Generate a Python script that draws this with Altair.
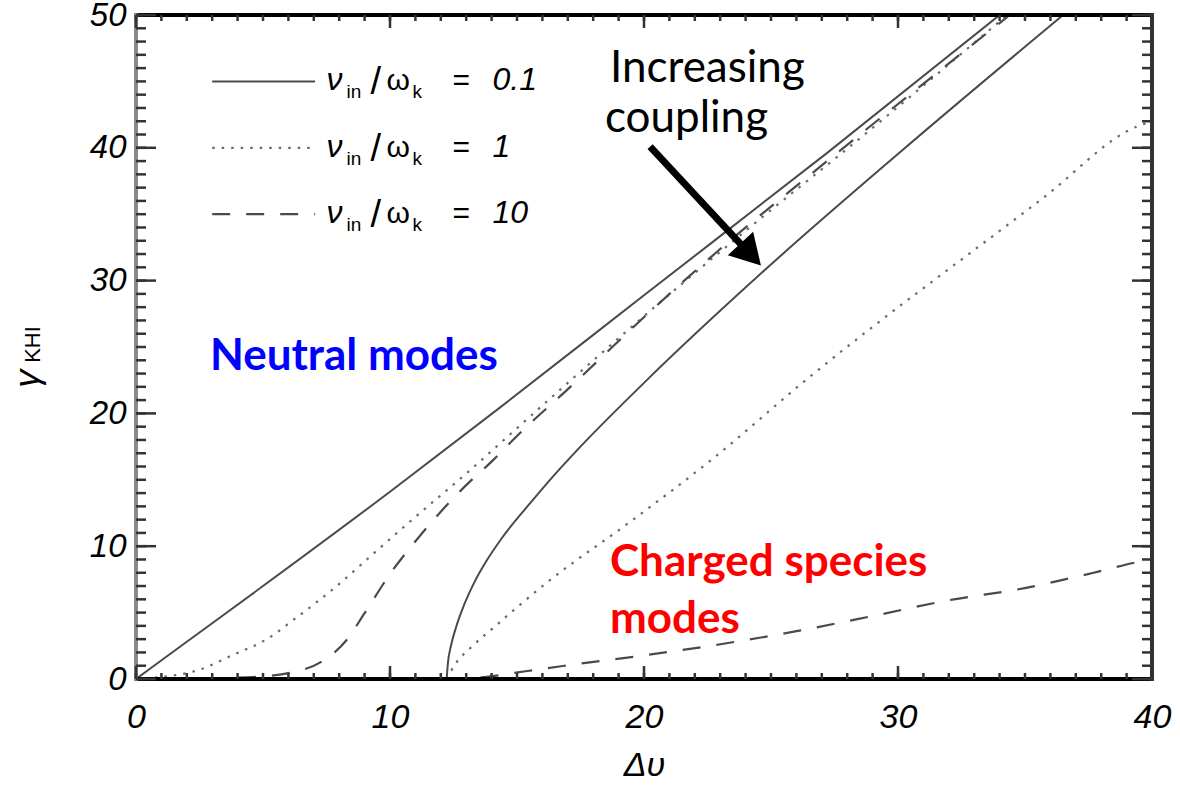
import altair as alt
import pandas as pd

# ---------------- data ----------------
# nu_in/omega_k = 0.1 (solid)
sol_neu_x = [0, 2, 5, 10, 14.3, 20, 27.2, 34.0]
sol_neu_y = [0, 2.8, 7.0, 14.1, 20.4, 28.9, 39.6, 50]
sol_chg_x = [12.23, 12.28, 12.4, 12.6, 12.9, 13.3, 13.8, 14.4, 15.5, 16.3, 17.35, 20, 24.7, 30.1, 36.5]
sol_chg_y = [0, 1.2, 2.5, 3.9, 5.5, 7.2, 8.9, 10.6, 13.2, 15.0, 17.2, 22.3, 30.7, 39.7, 50]
# nu_in/omega_k = 1 (dotted)
dot_neu_x = [0, 1, 2.5, 3.8, 5.15, 6.3, 7.9, 9.5, 11.3, 12.9, 14.6, 17.0, 20.9, 24.8, 27.85, 34.3]
dot_neu_y = [0, 0.15, 0.7, 1.8, 3.0, 4.6, 7.0, 9.7, 12.7, 15.3, 18.2, 22.3, 28.8, 35.0, 39.7, 50]
dot_chg_x = [12.23, 12.56, 13.2, 14.07, 16.2, 19.5, 22.65, 26.3, 35.7, 39.4, 40]
dot_chg_y = [0, 1.1, 2.4, 3.86, 7.3, 11.9, 16.5, 22.4, 36.2, 41.6, 42.0]
# nu_in/omega_k = 10 (dashed)
dash_neu_x = [0, 3, 5, 6.06, 7.24, 8.3, 9.0, 10.07, 11.1, 12.0, 13.0, 14.07, 15.0, 17.1, 20.2, 23.5, 26.5, 34.4]
dash_neu_y = [0, 0.05, 0.2, 0.47, 1.23, 2.96, 4.96, 8.1, 10.6, 12.6, 14.6, 16.5, 18.3, 22.0, 27.6, 33.2, 37.9, 50]
dash_chg_x = [12.23, 13.7, 15.4, 16.8, 19.8, 22.95, 26.0, 29.0, 32.2, 34.7, 37.7, 39.6, 40]
dash_chg_y = [0, 0.15, 0.6, 0.98, 1.73, 2.6, 3.6, 4.74, 6.0, 6.74, 8.0, 8.87, 9.0]

legend_values = ["0.1", "1", "10"]
legend_y = [45, 40, 35]
legend_x = [3.0, 7.05]
legend_text_x = 7.5

x_major = [0, 10, 20, 30, 40]
x_minor = list(range(0, 41))
y_major = [0, 10, 20, 30, 40, 50]
y_minor = list(range(0, 51))

W, H = 1016, 664
FONT = "Liberation Sans"
ANN = "Lato"

xsc = alt.Scale(domain=[0, 40], nice=False, zero=False)
ysc = alt.Scale(domain=[0, 50], nice=False, zero=False)

X = alt.X("dv:Q", scale=xsc, axis=alt.Axis(
    values=x_major, ticks=False, domain=False, grid=False, labelFont=FONT,
    labelFontSize=34, labelFontStyle="italic", labelColor="black", labelPadding=21,
    labelFlush=False, title="Δυ", titleFont=FONT, titleFontSize=34,
    titleFontStyle="italic", titleFontWeight="normal", titleColor="black", titlePadding=14))
Y = alt.Y("g:Q", scale=ysc, axis=alt.Axis(
    values=y_major, ticks=False, domain=False, grid=False, labelFont=FONT,
    labelFontSize=33, labelFontStyle="italic", labelColor="black", labelPadding=10,
    labelFlush=False, title=None))


def curves_df(curves, ly):
    rows = []
    for cid, (xs, ys) in curves.items():
        for i, (a, b) in enumerate(zip(xs, ys)):
            rows.append(dict(curve=cid, dv=a, g=b, i=i))
    for i, a in enumerate(legend_x):
        rows.append(dict(curve="legend", dv=a, g=ly, i=i))
    return pd.DataFrame(rows)


solid_df = curves_df({"n": (sol_neu_x, sol_neu_y), "c": (sol_chg_x, sol_chg_y)}, legend_y[0])
dot_df = curves_df({"n": (dot_neu_x, dot_neu_y), "c": (dot_chg_x, dot_chg_y)}, legend_y[1])
dash_df = curves_df({"n": (dash_neu_x, dash_neu_y), "c": (dash_chg_x, dash_chg_y)}, legend_y[2])

solid = alt.Chart(solid_df).mark_line(clip=True, interpolate="monotone", color="#4a4a4a",
                                      strokeWidth=2).encode(
    x=X, y=Y, detail="curve:N", order="i:Q")
dotted = alt.Chart(dot_df).mark_line(clip=True, interpolate="monotone", color="#6a6a6a",
                                     strokeWidth=2.2, strokeDash=[2.5, 7]).encode(
    x=X, y=Y, detail="curve:N", order="i:Q")
dashed = alt.Chart(dash_df).mark_line(clip=True, interpolate="monotone", color="#4a4a4a",
                                      strokeWidth=2.2, strokeDash=[18, 16]).encode(
    x=X, y=Y, detail="curve:N", order="i:Q")

# ---------------- frame and inward ticks ----------------
frame_df = pd.DataFrame([
    dict(dv=0, g=0, dv2=40, g2=0, c="#000000"),
    dict(dv=0, g=50, dv2=40, g2=50, c="#000000"),
    dict(dv=0, g=0, dv2=0, g2=50, c="#8a8a8a"),
    dict(dv=40, g=0, dv2=40, g2=50, c="#333333"),
])
frame = alt.Chart(frame_df).mark_rule(strokeWidth=4, strokeCap="square").encode(
    x=X, y=Y, x2="dv2:Q", y2="g2:Q", color=alt.Color("c:N", scale=None))


def tick_layer(df, **enc):
    return alt.Chart(df).mark_rule(color="#333333", strokeWidth=2.5).encode(**enc)


xmaj_b = pd.DataFrame(dict(dv=x_major, g=[0] * len(x_major)))
xmin_b = pd.DataFrame(dict(dv=x_minor, g=[0] * len(x_minor)))
xmaj_t = pd.DataFrame(dict(dv=x_major, g=[50] * len(x_major)))
xmin_t = pd.DataFrame(dict(dv=x_minor, g=[50] * len(x_minor)))
ymaj_l = pd.DataFrame(dict(dv=[0] * len(y_major), g=y_major))
ymin_l = pd.DataFrame(dict(dv=[0] * len(y_minor), g=y_minor))
ymaj_r = pd.DataFrame(dict(dv=[40] * len(y_major), g=y_major))
ymin_r = pd.DataFrame(dict(dv=[40] * len(y_minor), g=y_minor))

ticks = [
    tick_layer(xmaj_b, x=X, y=Y, y2=alt.value(H - 13)),
    tick_layer(xmin_b, x=X, y=Y, y2=alt.value(H - 6)),
    tick_layer(xmaj_t, x=X, y=Y, y2=alt.value(13)),
    tick_layer(xmin_t, x=X, y=Y, y2=alt.value(6)),
    tick_layer(ymaj_l, x=X, y=Y, x2=alt.value(20)),
    tick_layer(ymin_l, x=X, y=Y, x2=alt.value(10)),
    tick_layer(ymaj_r, x=X, y=Y, x2=alt.value(W - 20)),
    tick_layer(ymin_r, x=X, y=Y, x2=alt.value(W - 10)),
]

# ---------------- legend texts ----------------
leg_df = pd.DataFrame(dict(dv=[legend_text_x] * 3, g=legend_y, v=legend_values))


def leg_piece(text, size, dx, dy, italic=True, field=False):
    m = alt.Chart(leg_df).mark_text(
        align="left", baseline="alphabetic", font=FONT, fontSize=size,
        fontStyle="italic" if italic else "normal", color="black", dx=dx, dy=dy)
    if field:
        return m.encode(x=X, y=Y, text="v:N")
    return m.encode(x=X, y=Y, text=alt.value(text))


legend_texts = [
    leg_piece("ν", 32, 0, 9),
    leg_piece("in", 19, 20, 17, italic=False),
    leg_piece("/", 38, 44, 13, italic=False),
    leg_piece("ω", 30, 60, 9, italic=False),
    leg_piece("k", 19, 86, 17, italic=False),
    leg_piece("=", 30, 126, 9, italic=False),
    leg_piece("", 32, 166, 9, field=True),
]

# ---------------- y title (γ_KHI) ----------------
ytit = pd.DataFrame(dict(dv=[-4.25], g=[22.6]))
ytitle = [
    alt.Chart(ytit).mark_text(font=FONT, fontSize=36, fontStyle="italic", angle=270,
                              align="center", baseline="middle", color="black").encode(
        x=X, y=Y, text=alt.value("γ")),
    alt.Chart(ytit).mark_text(font=FONT, fontSize=22, angle=270, align="left",
                              baseline="middle", color="black", dx=16, dy=5).encode(
        x=X, y=Y, text=alt.value("KHI")),
]

# ---------------- annotations ----------------
ann_df = pd.DataFrame([
    dict(dv=18.66, g=44.96, t="Increasing", c="black", w="normal"),
    dict(dv=18.46, g=41.2, t="coupling", c="black", w="normal"),
    dict(dv=2.91, g=23.3, t="Neutral modes", c="#0000ff", w="bold"),
    dict(dv=18.66, g=7.74, t="Charged species", c="#ff0000", w="bold"),
    dict(dv=18.66, g=3.48, t="modes", c="#ff0000", w="bold"),
])
ann_norm = alt.Chart(ann_df[ann_df.w == "normal"]).mark_text(
    font=ANN, fontSize=44, align="left", baseline="alphabetic").encode(
    x=X, y=Y, text="t:N", color=alt.Color("c:N", scale=None))
ann_bold = alt.Chart(ann_df[ann_df.w == "bold"]).mark_text(
    font=ANN, fontSize=44, fontWeight="bold", align="left", baseline="alphabetic").encode(
    x=X, y=Y, text="t:N", color=alt.Color("c:N", scale=None))

arrow_df = pd.DataFrame([dict(dv=20.24, g=40.08, dv2=23.9, g2=32.56)])
shaft = alt.Chart(arrow_df).mark_rule(strokeWidth=7, color="black").encode(
    x=X, y=Y, x2="dv2:Q", y2="g2:Q")
head_df = pd.DataFrame([dict(dv=24.2, g=31.97)])
head = alt.Chart(head_df).mark_point(shape="triangle-up", filled=True, size=1200, angle=137,
                                     color="black", opacity=1).encode(x=X, y=Y)

chart = alt.layer(
    solid, dotted, dashed, frame, *ticks, *legend_texts, *ytitle,
    ann_norm, ann_bold, shaft, head
).properties(
    width=W, height=H,
    autosize=alt.AutoSizeParams(type="none"),
    padding={"left": 136, "top": 15, "right": 28, "bottom": 110},
).configure_view(stroke=None).configure(background="white")

chart.save("out.html", embed_options={"renderer": "svg", "actions": False})
